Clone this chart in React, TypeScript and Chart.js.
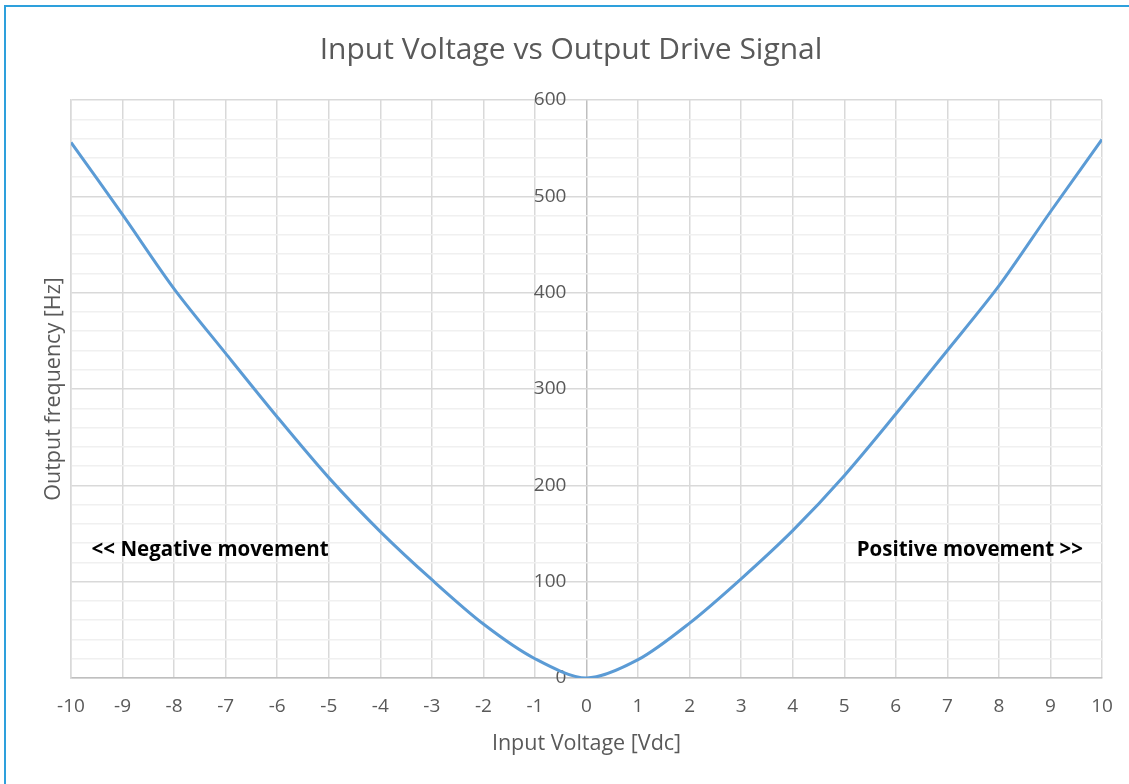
import React, { useEffect, useRef } from "react";
import { Chart, registerables } from "chart.js";

Chart.register(...registerables);

const voltages = [-10, -9, -8, -7, -6, -5, -4, -3, -2, -1, 0, 1, 2, 3, 4, 5, 6, 7, 8, 9, 10];
const frequencies = [556, 481, 404, 337, 271, 208, 152, 102, 56, 20, 0, 19, 57, 103, 153, 210, 274, 340, 407, 484, 559];

const chartTitle = "Input Voltage vs Output Drive Signal";
const xTitle = "Input Voltage [Vdc]";
const yTitle = "Output frequency [Hz]";
const notes = [
  { text: "<< Negative movement", x: -9.6, y: 133, align: "left" },
  { text: "Positive movement >>", x: 9.63, y: 133, align: "right" },
];

const FONT = "'Open Sans', Lato, 'DejaVu Sans', sans-serif";
const GREY = "#595959";
const Y_LABEL_AT = -0.39;

const notesPlugin = {
  id: "notes",
  afterDraw(chart: any) {
    const { ctx, scales } = chart;
    ctx.save();
    ctx.font = `bold 20.5px ${FONT}`;
    ctx.fillStyle = "#000000";
    ctx.textBaseline = "middle";
    notes.forEach((n) => {
      ctx.textAlign = n.align;
      ctx.fillText(n.text, scales.x.getPixelForValue(n.x), scales.y.getPixelForValue(n.y));
    });
    ctx.restore();
  },
};

export default function App() {
  const ref = useRef<HTMLCanvasElement | null>(null);
  useEffect(() => {
    if (!ref.current) return;
    const chart = new Chart(ref.current, {
      type: "line",
      data: {
        datasets: [
          {
            data: voltages.map((v, i) => ({ x: v, y: frequencies[i] })),
            borderColor: "#5b9bd5",
            backgroundColor: "#5b9bd5",
            borderWidth: 3,
            pointRadius: 0,
            tension: 0.3,
            fill: false,
          },
        ],
      },
      options: {
        animation: false,
        responsive: false,
        maintainAspectRatio: false,
        layout: { padding: { left: 34, right: 19, top: 0, bottom: 0 } },
        plugins: {
          legend: { display: false },
          tooltip: { enabled: false },
          title: {
            display: true,
            text: chartTitle,
            color: GREY,
            font: { family: FONT, size: 30, weight: "normal" },
            padding: { top: 25, bottom: 32 },
          },
        },
        scales: {
          x: {
            type: "linear",
            min: -10,
            max: 10,
            afterFit: (s: any) => {
              s.height = 106;
              s.paddingLeft = 0;
              s.paddingRight = 0;
            },
            ticks: {
              stepSize: 1,
              color: GREY,
              padding: 17,
              font: { family: FONT, size: 19 },
              maxRotation: 0,
              autoSkip: false,
            },
            grid: {
              color: (c: any) => (c.tick && c.tick.value === 0 ? "#bfbfbf" : "#d9d9d9"),
              lineWidth: 1.5,
              drawTicks: false,
            },
            border: { color: "#bfbfbf", width: 1.5 },
            title: {
              display: true,
              text: xTitle,
              color: GREY,
              font: { family: FONT, size: 21.5 },
              padding: { top: 0, bottom: 27 },
            },
          },
          y: {
            type: "linear",
            position: "left",
            min: 0,
            max: 600,
            afterFit: (s: any) => {
              s.width = 31;
              s.paddingTop = 0;
              s.paddingBottom = 0;
            },
            ticks: { display: false, stepSize: 20 },
            grid: {
              color: (c: any) => (c.tick && c.tick.value % 100 === 0 ? "#d9d9d9" : "#f0f0f0"),
              lineWidth: 1.5,
              drawTicks: false,
            },
            border: { color: "#d9d9d9", width: 1.5 },
            title: {
              display: true,
              text: yTitle,
              color: GREY,
              font: { family: FONT, size: 21.5 },
              padding: { top: 1, bottom: 0 },
            },
          },
          y2: {
            type: "linear",
            position: { x: Y_LABEL_AT },
            min: 0,
            max: 600,
            afterFit: (s: any) => {
              s.paddingTop = 0;
              s.paddingBottom = 0;
            },
            ticks: {
              stepSize: 100,
              color: GREY,
              padding: 0,
              font: { family: FONT, size: 19 },
            },
            grid: { display: false, drawTicks: false },
            border: { display: false },
          },
        },
      },
      plugins: [notesPlugin],
    } as any);
    return () => chart.destroy();
  }, []);

  return (
    <div style={{ position: "fixed", left: 0, top: 0, width: 1129, height: 784, overflow: "hidden", background: "#fff" }}>
      <div
        style={{
          position: "absolute",
          left: 4,
          top: 5,
          width: 1200,
          height: 900,
          border: "2px solid #2ea0dc",
          boxSizing: "border-box",
        }}
      />
      <canvas
        ref={ref}
        width={1115}
        height={777}
        style={{ position: "absolute", left: 6, top: 7, width: 1115, height: 777 }}
      />
    </div>
  );
}
